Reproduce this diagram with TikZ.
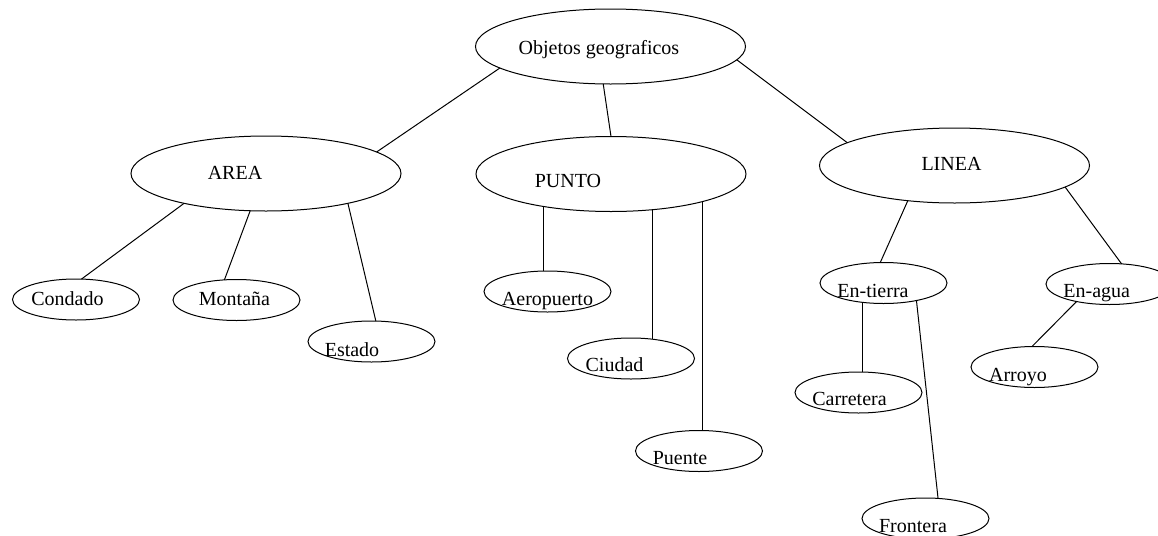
\documentclass[tikz,border=0pt]{standalone}
\usepackage{fontspec}
\setmainfont{Liberation Serif}
\usetikzlibrary{shapes.geometric}
\begin{document}
\begin{tikzpicture}[x=0.5pt,y=-0.5pt,line width=0.5pt,
  big/.style={draw,ellipse,minimum width=135pt,minimum height=37.5pt,inner sep=0pt,outer sep=0pt},
  small/.style={draw,ellipse,minimum width=63.5pt,minimum height=20.5pt,inner sep=0pt,outer sep=0pt},
  txt/.style={text height=1.5ex,text depth=.25ex}]
  \useasboundingbox (0,0) rectangle (1158,536);
  % root and the three kinds
  \node[big,label={[txt,shift={(-11.5,2)}]center:Objetos geograficos}] (obj) at (610.5,46.5) {};
  \node[big,label={[txt,shift={(-31,0.5)}]center:AREA}] (area) at (266,173.5) {};
  \node[big,label={[txt,shift={(-43,8)}]center:PUNTO}] (punto) at (611,174) {};
  \node[big,label={[txt,shift={(-3,-0.5)}]center:LINEA}] (linea) at (954.5,165.5) {};
  % leaves under AREA
  \node[small,label={[txt,shift={(-8.5,0.5)}]center:Condado}] (condado) at (76,299.5) {};
  \node[small,label={[txt,shift={(-2,0)}]center:Montaña}] (montana) at (236.5,300) {};
  \node[small,label={[txt,shift={(-19.5,9.5)}]center:Estado}] (estado) at (371.5,341.5) {};
  % leaves under PUNTO
  \node[small,label={[txt,shift={(0,8.5)}]center:Aeropuerto}] (aero) at (547.5,291.5) {};
  \node[small,label={[txt,shift={(-16.5,7.5)}]center:Ciudad}] (ciudad) at (631,358.5) {};
  \node[small,label={[txt,shift={(-19,8)}]center:Puente}] (puente) at (699,451) {};
  % under LINEA
  \node[small,label={[txt,shift={(-10.5,9)}]center:En-tierra}] (entierra) at (883.5,283) {};
  \node[small,label={[txt,shift={(-12.8,8)}]center:En-agua}] (enagua) at (1109.5,284) {};
  \node[small,label={[txt,shift={(-9,7.5)}]center:Carretera}] (carretera) at (858.5,392.5) {};
  \node[small,label={[txt,shift={(-12.5,8.5)}]center:Frontera}] (frontera) at (925.5,518.5) {};
  \node[small,label={[txt,shift={(-16.5,9)}]center:Arroyo}] (arroyo) at (1034.5,367) {};
  % connectors
  \draw (obj.191) -- (area.11);
  \draw (obj.259) -- (punto.90);
  \draw (obj.354) -- (linea.168);
  \draw (area.200) -- (condado.75);
  \draw (area.247) -- (montana.121);
  \draw (area.340) -- (estado.78);
  \draw (aero.102 |- punto.206) -- (aero.102);
  \draw (ciudad.42 |- punto.319) -- (ciudad.42);
  \draw (puente.80 |- punto.343) -- (puente.80);
  \draw (linea.217) -- (entierra.99);
  \draw (linea.349) -- (enagua.59);
  \draw (carretera.78 |- entierra.222) -- (carretera.78);
  \draw (entierra.332) -- (frontera.58);
  \draw (enagua.208) -- (arroyo.97);
\end{tikzpicture}
\end{document}
